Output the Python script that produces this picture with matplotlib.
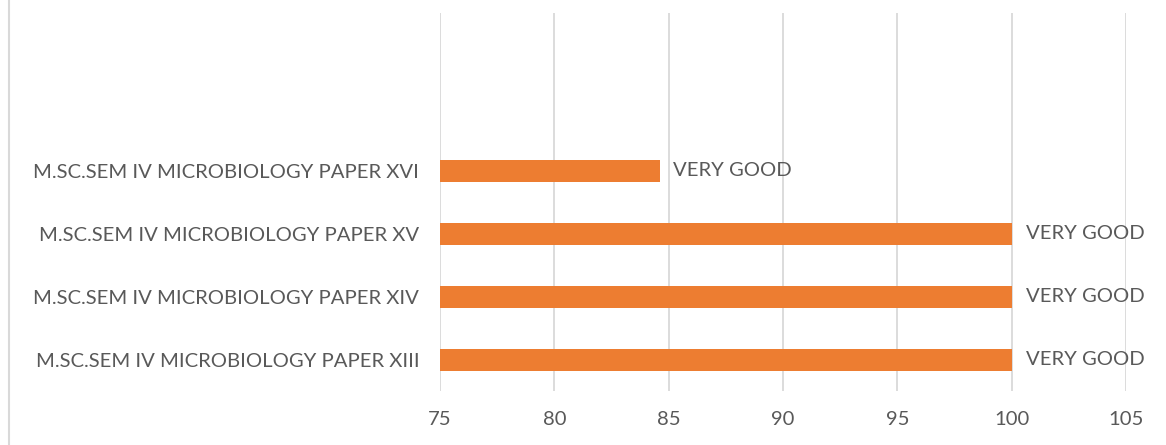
import matplotlib
matplotlib.use("Agg")
import matplotlib.pyplot as plt
from matplotlib.lines import Line2D

# data (bottom to top, two empty slots on top as in the original chart)
categories = [
    "M.SC.SEM IV MICROBIOLOGY PAPER XIII",
    "M.SC.SEM IV MICROBIOLOGY PAPER XIV",
    "M.SC.SEM IV MICROBIOLOGY PAPER XV",
    "M.SC.SEM IV MICROBIOLOGY PAPER XVI",
    "",
    "",
]
values = [100, 100, 100, 84.6]
labels = ["VERY GOOD", "VERY GOOD", "VERY GOOD", "VERY GOOD"]
xticks = [75, 80, 85, 90, 95, 100, 105]

TEXT = "#595959"
GRID = "#d9d9d9"
BAR = "#ed7d31"

plt.rcParams["font.family"] = ["Lato", "DejaVu Sans"]

fig = plt.figure(figsize=(11.66, 4.45), dpi=100)
ax = fig.add_axes([0.3774, 0.1204, 0.5883, 0.8496])

pos = list(range(len(categories)))
ax.barh(pos[:len(values)], [v - 75 for v in values], left=75, height=0.34,
        color=BAR, zorder=3)

for y, v, lab in zip(pos, values, labels):
    ax.annotate(lab, (v, y), xytext=(10, 0), textcoords="offset points",
                va="center", ha="left", fontsize=14.6, color=TEXT)

ax.set_xlim(75, 105)
ax.set_ylim(-0.5, len(categories) - 0.5)
ax.set_xticks(xticks)
ax.set_yticks(pos)
ax.set_yticklabels(categories)
ax.tick_params(axis="both", length=0, labelsize=14.6, labelcolor=TEXT)
ax.tick_params(axis="x", pad=14)
ax.tick_params(axis="y", pad=15)
ax.grid(axis="x", color=GRID, linewidth=1.3, zorder=0)
for s in ax.spines.values():
    s.set_visible(False)

# chart border on the left
fig.add_artist(Line2D([0.0075, 0.0075], [0, 1], color=GRID, linewidth=1.5))

fig.savefig("out.png", dpi=100)
